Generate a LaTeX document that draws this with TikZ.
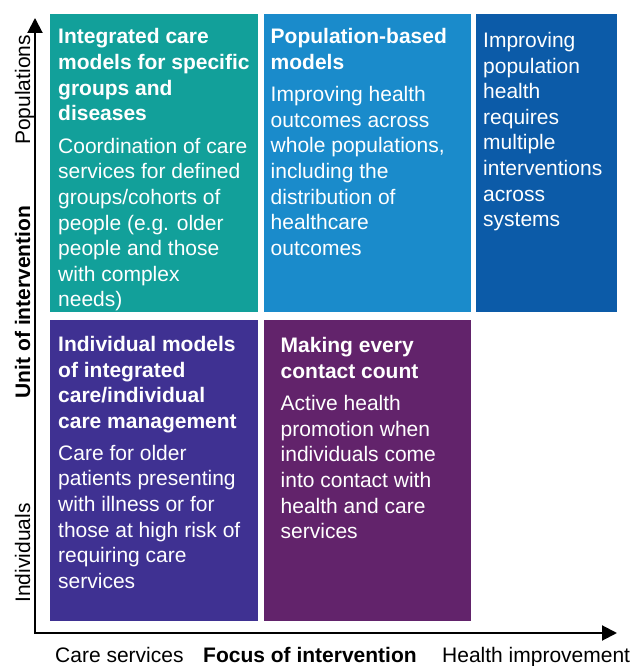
\documentclass[tikz,border=0pt]{standalone}
\usepackage{fontspec}
\setmainfont{Liberation Sans}
\usetikzlibrary{matrix,arrows.meta,positioning}

\definecolor{kteal}{RGB}{18,160,154}
\definecolor{kblue}{RGB}{26,139,203}
\definecolor{kdarkblue}{RGB}{12,91,168}
\definecolor{kindigo}{RGB}{63,49,146}
\definecolor{kpurple}{RGB}{98,35,107}

\tikzset{
  quad/.style={fill=#1},
  quadtext/.style={text=white, align=left, inner sep=0pt, anchor=north west,
    font=\fontsize{21}{25.6}\selectfont},
  axislabel/.style={inner sep=0pt, font=\fontsize{21}{25.6}\selectfont},
  axis/.style={line width=2pt,
    {Triangle[length=15pt,width=15pt]}-{Triangle[length=15pt,width=15pt]}},
}

\begin{document}
\begin{tikzpicture}[x=1pt,y=1pt]
\useasboundingbox (0,0) rectangle (640,666);

		\matrix (q) [matrix of nodes, nodes in empty cells, inner sep=0pt, outer sep=0pt,
			row sep=8pt, column sep=5.5pt, anchor=north west,
			nodes={anchor=center, inner sep=0pt, outer sep=0pt},
			column 1/.style={nodes={minimum width=208pt}},
			column 2/.style={nodes={minimum width=207pt}},
			column 3/.style={nodes={minimum width=141pt}},
			row 1/.style={nodes={minimum height=298pt}},
			row 2/.style={nodes={minimum height=301pt}}] at (50,652)
		{
			|[quad=kteal]|   & |[quad=kblue]|   & |[quad=kdarkblue]| \\
			|[quad=kindigo]| & |[quad=kpurple]| &                    \\
		};

		\node[quadtext, below right=14.5pt and 8pt of q-1-1.north west] (t11)
			{\textbf{Integrated care}\\\textbf{models for specific}\\\textbf{groups and}\\\textbf{diseases}\\[7pt]
			 Coordination of care\\services for defined\\groups/cohorts of\\people (e.g. older\\people and those\\with complex\\needs)};
		\node[quadtext, below right=14.5pt and 7pt of q-1-2.north west] (t12)
			{\textbf{Population-based}\\\textbf{models}\\[6.5pt]
			 Improving health\\outcomes across\\whole populations,\\including the\\distribution of\\healthcare\\outcomes};
		\node[quadtext, below right=18pt and 7pt of q-1-3.north west] (t13)
			{Improving\\population\\health\\requires\\multiple\\interventions\\across\\systems};
		\node[quadtext, below right=16pt and 8pt of q-2-1.north west] (t21)
			{\textbf{Individual models}\\\textbf{of integrated}\\\textbf{care/individual}\\\textbf{care management}\\[6.5pt]
			 Care for older\\patients presenting\\with illness or for\\those at high risk of\\requiring care\\services};
		\node[quadtext, below right=17pt and 17pt of q-2-2.north west] (t22)
			{\textbf{Making every}\\\textbf{contact count}\\[7pt]
			 Active health\\promotion when\\individuals come\\into contact with\\health and care\\services};

		% axes
		\coordinate (ytip) at (35,648);
		\coordinate (o) at (35,33);
		\coordinate (xtip) at (617,33);
		\draw[axis] (ytip) -- (o) -- (xtip);

		\node[axislabel, rotate=90, anchor=base] (pop) at (30,576) {Populations};
		\node[axislabel, rotate=90, anchor=base] (unit) at (30,364) {\textbf{Unit of intervention}};
		\node[axislabel, rotate=90, anchor=base] (indiv) at (30,113) {Individuals};

		\node[axislabel, anchor=base west] (care) at (55,3) {Care services};
		\node[axislabel, anchor=base west] (focus) at (203,3) {\textbf{Focus of intervention}};
		\node[axislabel, anchor=base west] (health) at (442,3) {Health improvement};
\end{tikzpicture}
\end{document}
